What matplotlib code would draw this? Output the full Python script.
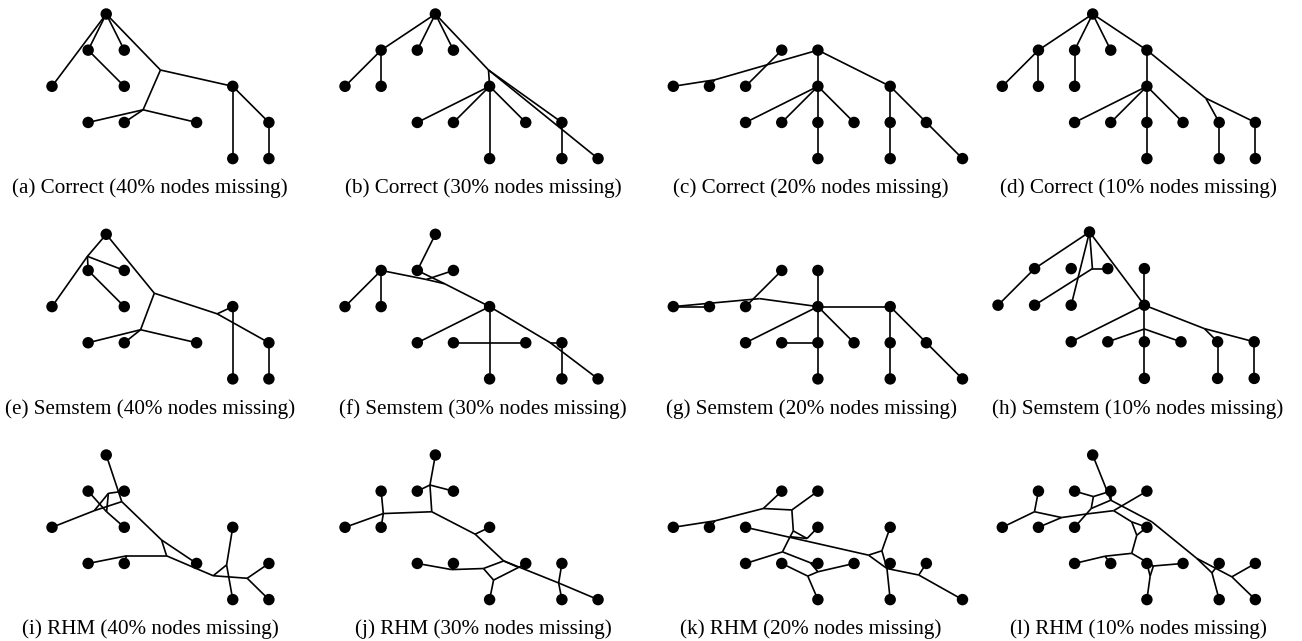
import matplotlib
matplotlib.use("Agg")
import matplotlib.pyplot as plt
from matplotlib.collections import LineCollection
from matplotlib.transforms import Affine2D

# nodes in grid units (column, level); junctions are the hidden branch points

# (a) Correct 40%
nodes_a = [(1.5, 0), (1, 1), (2, 1), (0, 2), (2, 2), (1, 3), (2, 3), (4, 3), (5, 2), (6, 3), (5, 4), (6, 4)]
junc_a = {'J1': (3.0, 1.55), 'J2': (2.52, 2.65)}
edges_a = [((1.5, 0), (0, 2)), ((1.5, 0), (1, 1)), ((1.5, 0), (2, 1)), ((1.5, 0), 'J1'), ((1, 1), (2, 2)),
           ('J1', (5, 2)), ('J1', 'J2'), ('J2', (1, 3)), ('J2', (2, 3)), ('J2', (4, 3)),
           ((5, 2), (5, 4)), ((5, 2), (6, 3)), ((6, 3), (6, 4))]

# (b) Correct 30%
nodes_b = [(2.5, 0), (1, 1), (2, 1), (3, 1), (0, 2), (1, 2), (4, 2), (2, 3), (3, 3), (5, 3), (6, 3), (4, 4), (6, 4), (7, 4)]
junc_b = {'J': (3.97, 1.55)}
edges_b = [((2.5, 0), (1, 1)), ((2.5, 0), (2, 1)), ((2.5, 0), (3, 1)), ((2.5, 0), 'J'),
           ((1, 1), (0, 2)), ((1, 1), (1, 2)), ('J', (4, 2)), ('J', (6, 3)), ('J', (7, 4)),
           ((4, 2), (2, 3)), ((4, 2), (3, 3)), ((4, 2), (4, 4)), ((4, 2), (5, 3)), ((6, 3), (6, 4))]

# (c) Correct 20%
nodes_c = [(3, 1), (4, 1), (0, 2), (1, 2), (2, 2), (4, 2), (6, 2), (2, 3), (3, 3), (4, 3), (5, 3), (6, 3), (7, 3), (4, 4), (6, 4), (8, 4)]
junc_c = {'J': (1.15, 1.82)}
edges_c = [((4, 1), 'J'), ('J', (0, 2)), ('J', (1, 2)), ((3, 1), (2, 2)), ((4, 1), (4, 2)), ((4, 1), (6, 2)),
           ((4, 2), (2, 3)), ((4, 2), (3, 3)), ((4, 2), (4, 3)), ((4, 2), (5, 3)), ((4, 3), (4, 4)),
           ((6, 2), (6, 3)), ((6, 3), (6, 4)), ((6, 2), (7, 3)), ((7, 3), (8, 4))]

# (d) Correct 10%
nodes_d = [(2.5, 0), (1, 1), (2, 1), (3, 1), (4, 1), (0, 2), (1, 2), (2, 2), (4, 2), (2, 3), (3, 3), (4, 3), (5, 3), (6, 3), (7, 3), (4, 4), (6, 4), (7, 4)]
junc_d = {'J': (5.63, 2.33)}
edges_d = [((2.5, 0), (1, 1)), ((2.5, 0), (2, 1)), ((2.5, 0), (3, 1)), ((2.5, 0), (4, 1)),
           ((1, 1), (0, 2)), ((1, 1), (1, 2)), ((2, 1), (2, 2)), ((4, 1), (4, 2)),
           ((4, 2), (2, 3)), ((4, 2), (3, 3)), ((4, 2), (4, 3)), ((4, 2), (5, 3)), ((4, 3), (4, 4)),
           ((4, 1), 'J'), ('J', (7, 3)), ('J', (6, 3)), ((6, 3), (6, 4)), ((7, 3), (7, 4))]

# (e) Semstem 40%
nodes_e = nodes_a
junc_e = {'A': (0.98, 0.61), 'B': (2.83, 1.63), 'C': (2.45, 2.64), 'D': (4.57, 2.2)}
edges_e = [((1.5, 0), 'A'), ('A', (0, 2)), ('A', (1, 1)), ('A', (2, 1)), ((1, 1), (2, 2)),
           ((1.5, 0), 'B'), ('B', 'C'), ('C', (1, 3)), ('C', (2, 3)), ('C', (4, 3)),
           ('B', 'D'), ('D', (5, 2)), ('D', (6, 3)), ((5, 2), (5, 4)), ((6, 3), (6, 4))]

# (f) Semstem 30%
nodes_f = nodes_b
junc_f = {'A': (2.25, 1.25), 'B': (2.76, 1.37), 'C': (5.68, 3.0)}
edges_f = [((2.5, 0), (2, 1)), ((1, 1), (0, 2)), ((1, 1), (1, 2)), ((1, 1), 'A'), ((3, 1), 'A'),
           ('A', 'B'), ((2, 1), 'B'), ('B', (4, 2)), ((4, 2), (2, 3)), ((4, 2), (4, 4)),
           ((3, 3), (5, 3)), ((4, 2), 'C'), ('C', (6, 3)), ('C', (7, 4)), ((6, 3), (6, 4))]

# (g) Semstem 20%
nodes_g = nodes_c
junc_g = {'J': (2.39, 1.78)}
edges_g = [((4, 1), (4, 2)), ((4, 2), (6, 2)), ((4, 2), 'J'), ('J', (0, 2)), ((3, 1), (2, 2)),
           ((0, 2), (1, 2)), ((4, 2), (2, 3)), ((4, 2), (4, 3)), ((4, 2), (5, 3)), ((3, 3), (4, 3)),
           ((4, 3), (4, 4)), ((6, 2), (6, 3)), ((6, 3), (6, 4)), ((6, 2), (7, 3)), ((7, 3), (8, 4))]

# (h) Semstem 10%
nodes_h = nodes_d
junc_h = {'A': (2.58, 1.0), 'B': (4.0, 2.65), 'C': (5.64, 2.64)}
edges_h = [((2.5, 0), (1, 1)), ((1, 1), (0, 2)), ((2.5, 0), 'A'), ('A', (3, 1)), ('A', (1, 2)),
           ((2.5, 0), (2, 2)), ((2.5, 0), (4, 2)), ((4, 1), (4, 2)), ((4, 2), (2, 3)), ((4, 2), (4, 3)),
           ('B', (3, 3)), ('B', (5, 3)), ((4, 3), (4, 4)), ((4, 2), 'C'), ('C', (6, 3)), ('C', (7, 3)),
           ((6, 3), (6, 4)), ((7, 3), (7, 4))]

# (i) RHM 40%
nodes_i = nodes_a
junc_i = {'A': (1.93, 1.29), 'B': (1.56, 1.06), 'C': (1.17, 1.54), 'D': (1.51, 1.57), 'E': (3.03, 2.35),
          'F': (3.17, 2.79), 'G': (2.06, 2.79), 'H': (4.46, 3.34), 'K': (4.83, 3.04), 'N': (5.4, 3.41)}
edges_i = [((1.5, 0), 'A'), ('A', 'C'), ('C', (0, 2)), ('B', (2, 1)), ('B', 'C'), ('B', 'D'),
           ((1, 1), 'D'), ('D', (2, 2)), ('A', 'E'), ('E', 'F'), ('E', (4, 3)), ('F', 'G'),
           ('G', (1, 3)), ('G', (2, 3)), ('F', 'H'), ('H', 'K'), ('K', (5, 2)), ('K', (5, 4)),
           ('H', 'N'), ('N', (6, 3)), ('N', (6, 4))]

# (j) RHM 30%
nodes_j = nodes_b
junc_j = {'P': (2.35, 0.83), 'Q': (2.4, 1.57), 'R': (1.06, 1.62), 'T': (3.6, 2.19), 'U': (4.39, 2.93),
          'V': (3.83, 3.14), 'W': (4.11, 3.46), 'X': (4.8, 3.11), 'Y': (5.91, 3.54), 'Z': (2.95, 3.17)}
edges_j = [((2.5, 0), 'P'), ('P', (2, 1)), ('P', (3, 1)), ('P', 'Q'), ('Q', 'R'), ('R', (0, 2)),
           ('R', (1, 1)), ('R', (1, 2)), ('Q', 'T'), ('T', (4, 2)), ('T', 'U'), ('U', 'X'),
           ('X', (5, 3)), ('X', 'W'), ('W', (4, 4)), ('W', 'V'), ('V', 'U'), ('V', 'Z'),
           ('Z', (3, 3)), ('Z', (2, 3)), ('U', 'Y'), ('Y', (6, 3)), ('Y', (6, 4)), ('Y', (7, 4))]

# (k) RHM 20%
nodes_k = nodes_c
junc_k = {'A': (2.49, 1.48), 'B': (3.28, 1.52), 'C': (1.16, 1.82), 'D': (3.32, 2.1), 'E': (3.7, 2.31),
          'F': (3.23, 2.26), 'G': (3.02, 2.68), 'H': (3.79, 2.98), 'I': (3.72, 3.35), 'K': (4.0, 3.23),
          'L': (5.4, 2.77), 'M': (5.77, 2.65), 'N': (5.91, 3.14), 'O': (6.79, 3.32)}
edges_k = [((0, 2), 'C'), ('C', (1, 2)), ('C', 'A'), ('A', (3, 1)), ('A', 'B'), ('B', (4, 1)),
           ('B', 'D'), ('D', 'E'), ('E', (4, 2)), ('D', 'F'), ('E', 'F'), ('F', 'G'), ('G', (2, 3)),
           ('G', 'H'), ('H', (4, 3)), ((3, 3), 'I'), ('I', 'K'), ('K', (5, 3)), ('I', (4, 4)),
           ('H', 'K'), ((2, 2), 'L'), ('L', 'M'), ('M', (6, 2)), ('L', 'N'), ('M', 'N'),
           ('N', (6, 4)), ('N', 'O'), ('O', (7, 3)), ('O', (8, 4))]

# (l) RHM 10%
nodes_l = nodes_d
junc_l = {'A': (3.0, 1.25), 'B': (2.52, 1.15), 'C': (2.46, 1.48), 'D': (3.08, 1.54), 'E': (0.89, 1.57),
          'F': (1.64, 1.73), 'G': (2.34, 1.63), 'H': (3.58, 1.85), 'I': (4.14, 1.85), 'J': (3.72, 2.22),
          'K': (3.58, 2.72), 'L': (2.84, 2.8), 'M': (4.18, 3.07), 'N': (4.09, 3.35), 'O': (5.38, 2.86),
          'P': (5.8, 3.26), 'Q': (6.35, 3.37)}
edges_l = [((2.5, 0), 'A'), ('A', (3, 1)), ((2, 1), 'B'), ('B', (3, 1)), ('B', 'C'), ('C', (2, 2)),
           ('C', 'A'), ((1, 1), 'E'), ('E', (0, 2)), ('E', 'F'), ('F', (1, 2)), ('F', 'G'), ('G', 'D'),
           ('D', (4, 1)), ('D', 'H'), ('H', 'J'), ('J', (4, 2)), ('H', (4, 2)), ('J', 'K'), ('K', 'L'),
           ('L', (2, 3)), ('L', (3, 3)), ('K', 'M'), ('M', (4, 3)), ('M', (5, 3)), ('M', 'N'),
           ('N', (4, 4)), ((4, 3), 'N'), ('A', 'I'), ('I', 'O'), ('O', 'P'), ('P', (6, 3)),
           ('P', (6, 4)), ('O', 'Q'), ('Q', (7, 3)), ('Q', (7, 4))]

captions = ['(a) Correct (40% nodes missing)', '(b) Correct (30% nodes missing)',
            '(c) Correct (20% nodes missing)', '(d) Correct (10% nodes missing)',
            '(e) Semstem (40% nodes missing)', '(f) Semstem (30% nodes missing)',
            '(g) Semstem (20% nodes missing)', '(h) Semstem (10% nodes missing)',
            '(i) RHM (40% nodes missing)', '(j) RHM (30% nodes missing)',
            '(k) RHM (20% nodes missing)', '(l) RHM (10% nodes missing)']

panels = [(nodes_a, junc_a, edges_a), (nodes_b, junc_b, edges_b), (nodes_c, junc_c, edges_c), (nodes_d, junc_d, edges_d),
          (nodes_e, junc_e, edges_e), (nodes_f, junc_f, edges_f), (nodes_g, junc_g, edges_g), (nodes_h, junc_h, edges_h),
          (nodes_i, junc_i, edges_i), (nodes_j, junc_j, edges_j), (nodes_k, junc_k, edges_k), (nodes_l, junc_l, edges_l)]

# layout in pixels: origin of grid column 0 / level 0, and grid step
col_x0 = [52, 345, 673.3, 1002.3]
row_y0 = [14, 234.3, 455]
step = 36.15
caption_x = [150, 483, 811, 1138]
caption_y = [188, 409, 629]

W, H = 1302, 641
fig = plt.figure(figsize=(W / 100, H / 100), dpi=100)
ax = fig.add_axes([0, 0, 1, 1])
ax.set_xlim(0, W)
ax.set_ylim(H, 0)
ax.axis('off')

for k, (nodes, junc, edges) in enumerate(panels):
    r, c = divmod(k, 4)
    x0, y0, s = col_x0[c], row_y0[r], step
    if k == 7:  # panel (h) is drawn slightly wider
        x0, y0, s = 998, 232, 36.6
    tr = Affine2D().scale(s).translate(x0, y0) + ax.transData

    def pos(p):
        return junc[p] if isinstance(p, str) else p

    segs = [[pos(a), pos(b)] for a, b in edges]
    ax.add_collection(LineCollection(segs, colors='black', linewidths=1.2, transform=tr, zorder=1))
    xs = [n[0] for n in nodes]
    ys = [n[1] for n in nodes]
    ax.scatter(xs, ys, s=68, color='black', edgecolors='none', transform=tr, zorder=2)

    ax.text(caption_x[c], caption_y[r], captions[k], ha='center', va='center',
            fontsize=15.2, family='Liberation Serif')

fig.savefig('out.png', dpi=100)
